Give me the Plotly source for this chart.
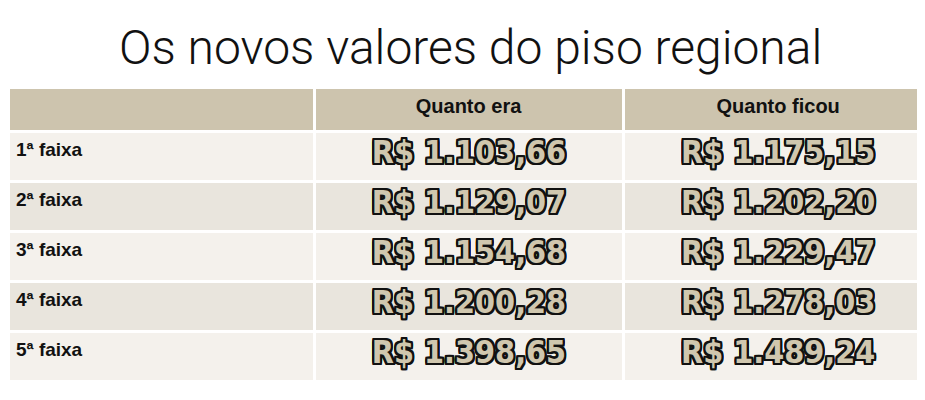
import plotly.graph_objects as go

HEADERS = ["", "Quanto era", "Quanto ficou"]
FAIXAS = ["1ª faixa", "2ª faixa", "3ª faixa", "4ª faixa", "5ª faixa"]
ERA = ["R$ 1.103,66", "R$ 1.129,07", "R$ 1.154,68", "R$ 1.200,28", "R$ 1.398,65"]
FICOU = ["R$ 1.175,15", "R$ 1.202,20", "R$ 1.229,47", "R$ 1.278,03", "R$ 1.489,24"]

row_fill = ["#f4f1ec" if i % 2 == 0 else "#e9e5dd" for i in range(len(FAIXAS))]
outline = ", ".join(f"{dx}px {dy}px 0 #111" for dx in (-2, -1, 0, 1, 2)
                    for dy in (-2, -1, 0, 1, 2) if (dx, dy) != (0, 0))

W, H = 925, 400
fig = go.Figure(go.Table(
    domain=dict(x=[0, 1], y=[12 / H, 321 / H]),
    columnwidth=[304, 306, 307],
    header=dict(
        values=[f"<b>{h}</b>" for h in HEADERS],
        fill_color="#cdc4ae",
        line=dict(color="white", width=3),
        align="center", height=44,
        font=dict(family="Liberation Sans, Arial", size=20, color="#111"),
    ),
    cells=dict(
        values=[[f"<b>{f}</b>" for f in FAIXAS], ERA, FICOU],
        fill_color=[row_fill] * 3,
        line=dict(color="white", width=3),
        align=["left", "center", "center"], height=50,
        font=dict(family=["Liberation Sans, Arial", "DejaVu Sans Condensed",
                          "DejaVu Sans Condensed"],
                  size=[19, 32, 32], color=["#111", "#d0c7ae", "#d0c7ae"],
                  weight=["normal", "bold", "bold"],
                  shadow=["none", outline, outline]),
    ),
))
fig.add_annotation(text="Os novos valores do piso regional", x=0.5, y=1 - 40 / H,
                   xref="paper", yref="paper", showarrow=False, yanchor="middle",
                   font=dict(family="Roboto", weight=300, size=48, color="#111"))
fig.update_layout(width=W, height=H, margin=dict(l=0, r=0, t=0, b=0),
                  paper_bgcolor="white")
fig.write_html("out.html")
